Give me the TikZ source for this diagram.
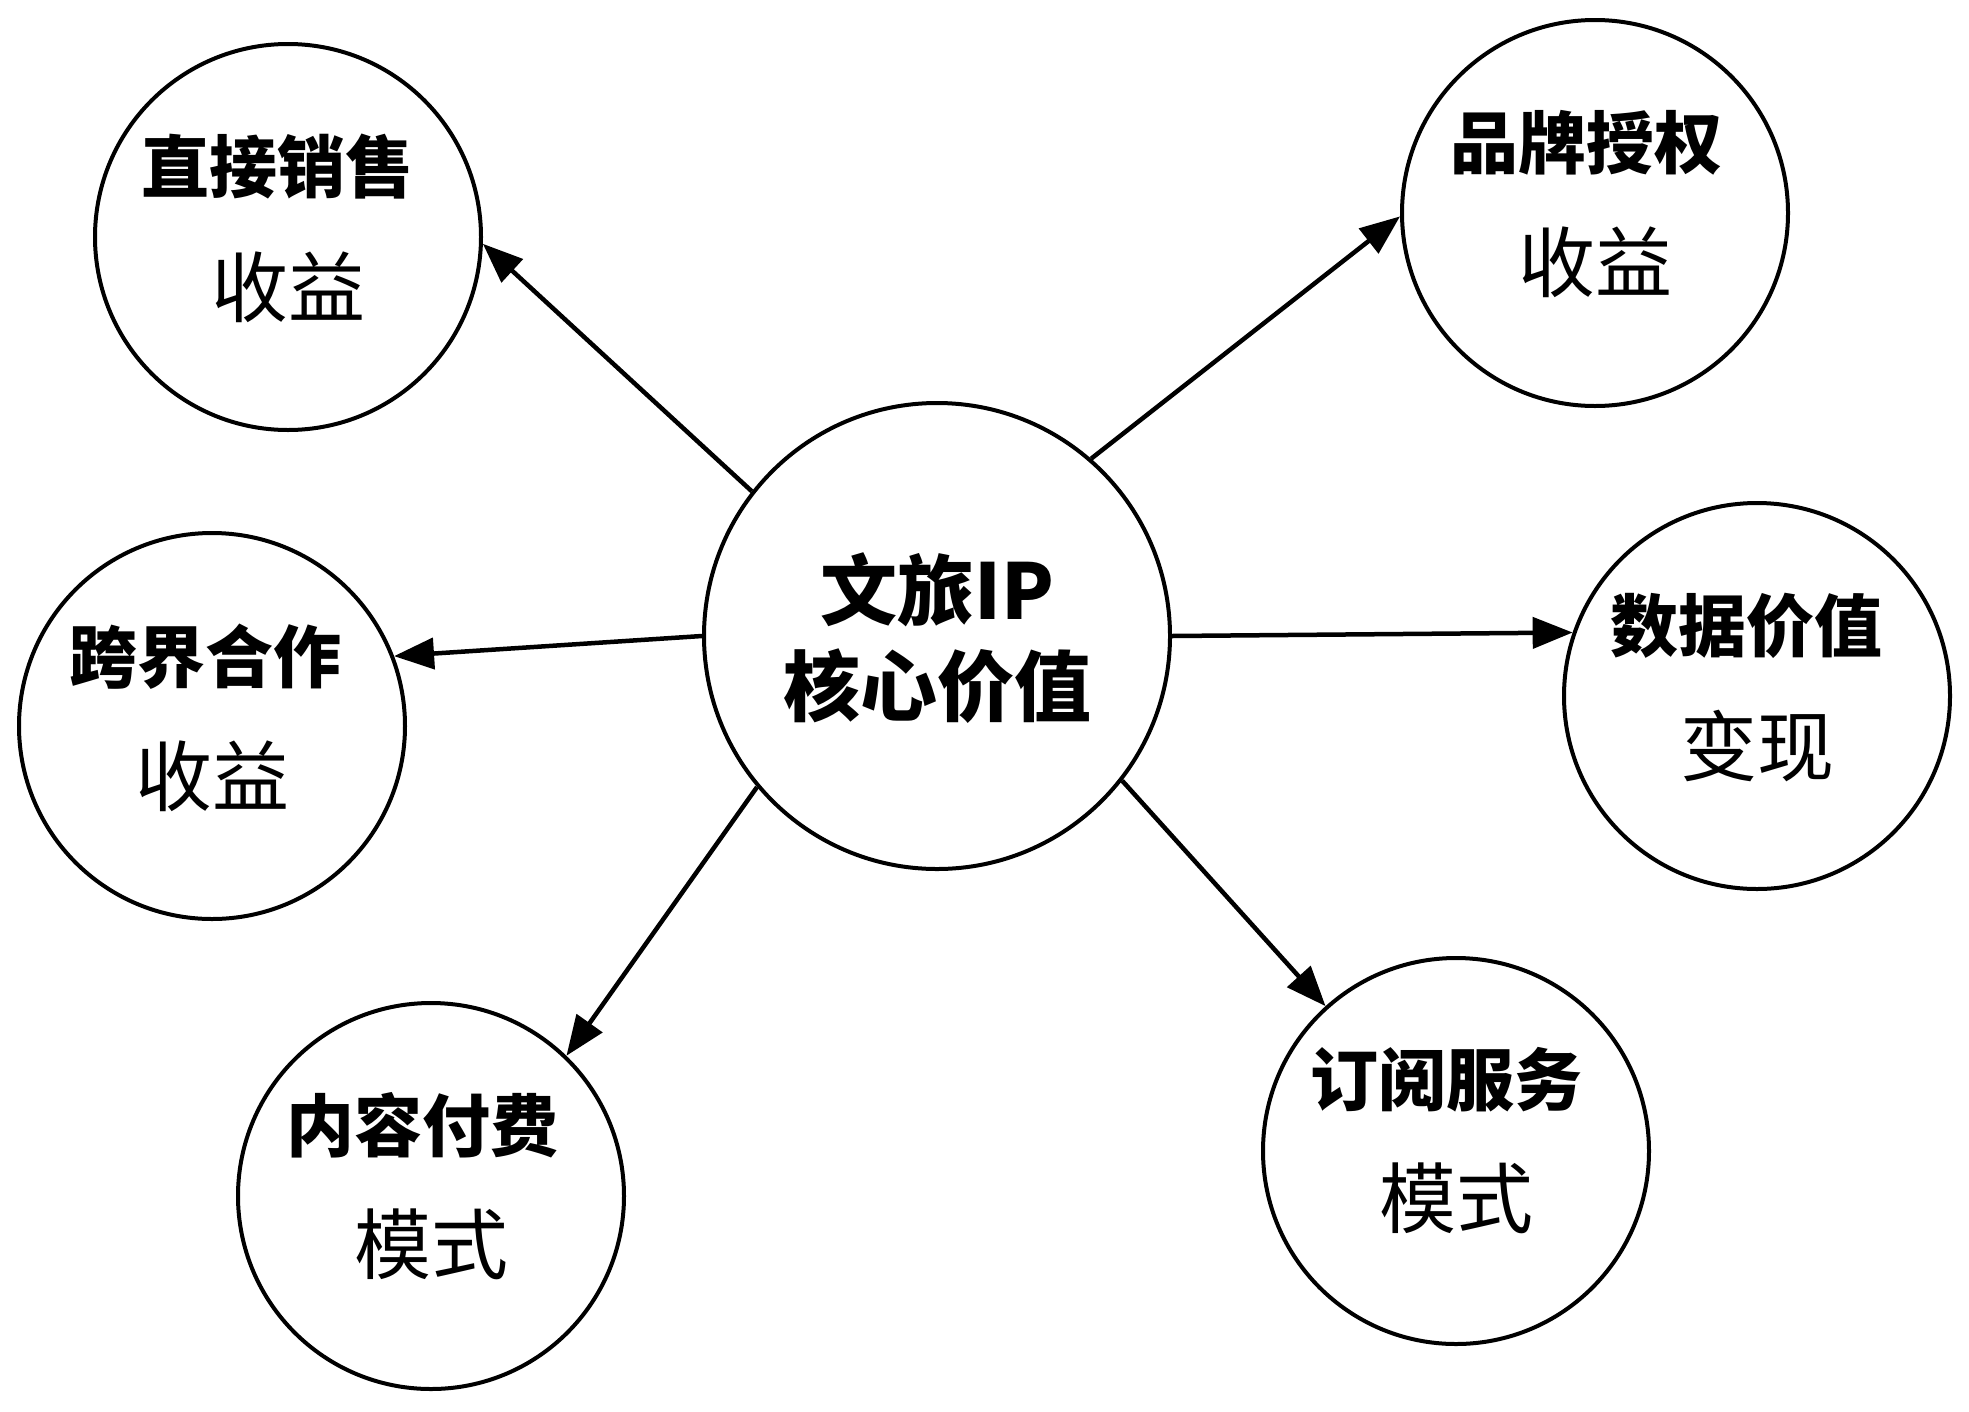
\documentclass[tikz,border=0pt]{standalone}
\usepackage{fontspec}
\setmainfont{Noto Sans CJK SC}
\usetikzlibrary{arrows.meta}
\begin{document}
\begin{tikzpicture}[x=1pt,y=-1pt,
  hub/.style={circle,draw=black,line width=4pt,minimum size=386pt,inner sep=0pt},
  core/.style={circle,draw=black,line width=4pt,minimum size=466pt,inner sep=0pt},
  bline/.style={inner sep=0pt,font=\fontsize{68}{80}\selectfont\bfseries},
  rline/.style={inner sep=0pt,font=\fontsize{77}{90}\selectfont},
  cline/.style={inner sep=0pt,font=\fontsize{77}{90}\selectfont\bfseries},
  arr/.style={line width=4.5pt,-{Triangle[length=40pt,width=31pt]}}]
\fill[white] (0,0) rectangle (1969,1411);
\useasboundingbox (0,0) rectangle (1969,1411);

\node[core] (c) at (937,636) {};
\node[cline] (c1) at ([yshift=46pt]c.center) {文旅IP};
\node[cline] (c2) at ([yshift=-50pt]c.center) {核心价值};

\node[hub] (a) at (288,237) {};
\node[bline] (a1) at ([xshift=-11pt,yshift=70pt]a.center) {直接销售};
\node[rline] (a2) at ([yshift=-50pt]a.center) {收益};

\node[hub] (b) at (1595,213) {};
\node[bline] (b1) at ([xshift=-9pt,yshift=70pt]b.center) {品牌授权};
\node[rline] (b2) at ([yshift=-49pt]b.center) {收益};

\node[hub] (d) at (212,726) {};
\node[bline] (d1) at ([xshift=-7pt,yshift=69pt]d.center) {跨界合作};
\node[rline] (d2) at ([yshift=-50pt]d.center) {收益};

\node[hub] (e) at (1757,696) {};
\node[bline] (e1) at ([xshift=-11pt,yshift=70pt]e.center) {数据价值};
\node[rline] (e2) at ([yshift=-50pt]e.center) {变现};

\node[hub] (f) at (431,1196) {};
\node[bline] (f1) at ([xshift=-9pt,yshift=71pt]f.center) {内容付费};
\node[rline] (f2) at ([yshift=-48pt]f.center) {模式};

\node[hub] (g) at (1456,1151) {};
\node[bline] (g1) at ([xshift=-10pt,yshift=71pt]g.center) {订阅服务};
\node[rline] (g2) at ([yshift=-47pt]g.center) {模式};

\draw[arr] (c.142) -- (a.-2);
\draw[arr] (c.49) -- (b.181);
\draw[arr] (c.180) -- (d.21);
\draw[arr] (c.0) -- (e.161);
\draw[arr] (c.220) -- (f.46);
\draw[arr] (c.-38) -- (g.132);
\end{tikzpicture}
\end{document}
